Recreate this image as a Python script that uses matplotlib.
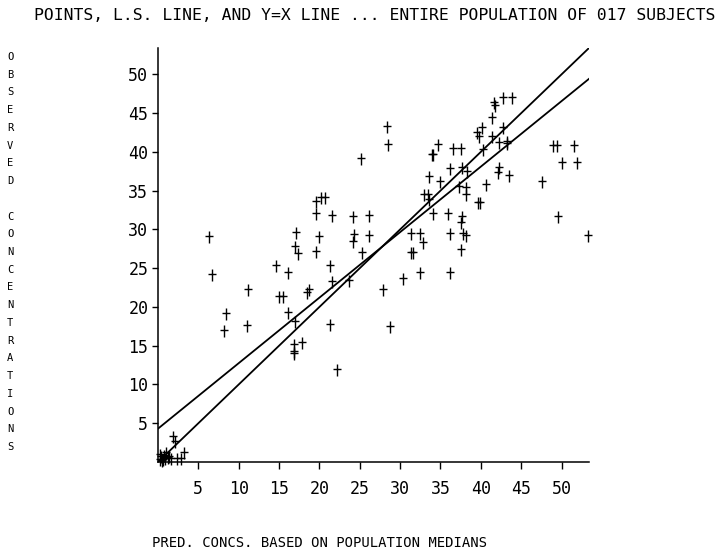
import numpy as np
import matplotlib
matplotlib.use("Agg")
import matplotlib.pyplot as plt
from matplotlib.path import Path

# values
pred = [0.2, 0.4, 0.6, 0.8, 1.0, 1.2, 0.3, 0.9, 0.5, 1.4,
        1.6, 2.4, 2.9, 3.2, 1.9, 2.1,
        6.3, 6.7, 8.4, 8.2, 11.2, 11.0, 14.6, 15.0, 15.5, 16.1,
        16.1, 17.0, 16.9, 16.9, 16.9, 17.9, 17.1, 17.0, 17.4, 18.5,
        18.7, 19.6, 20.2, 20.7, 19.6, 19.9, 19.6, 21.6, 21.3, 21.6,
        21.3, 22.2, 23.7, 24.1, 24.1, 24.3, 25.1, 25.3, 26.2, 26.2,
        27.9, 28.4, 28.5, 28.8, 30.3, 31.4, 32.5, 32.8, 31.4, 31.6,
        32.5, 32.9, 33.4, 33.6, 33.6, 33.9, 34.1, 34.7, 34.9, 34.1,
        35.9, 36.2, 36.2, 36.2, 36.6, 37.5, 37.3, 37.7, 37.7, 37.5,
        37.5, 37.8, 38.2, 38.1, 38.2, 38.3, 39.6, 39.9, 39.5, 39.8,
        40.2, 40.3, 40.7, 41.4, 41.4, 41.6, 41.8, 42.2, 42.8, 42.2,
        42.1, 42.8, 43.9, 43.3, 43.3, 43.5, 47.6, 49.0, 49.4, 51.5,
        50.0, 51.9, 49.6, 53.3]
obs = [0.3, 0.6, 0.2, 0.8, 1.2, 0.5, 0.9, 0.4, 0.1, 0.7,
       0.4, 0.4, 0.4, 1.2, 3.2, 2.6,
       29.0, 24.1, 19.1, 16.9, 22.2, 17.5, 25.3, 21.3, 21.3, 24.4,
       19.2, 18.1, 15.1, 14.2, 13.9, 15.4, 29.5, 27.7, 26.8, 21.8,
       22.2, 33.5, 34.1, 34.1, 32.0, 29.0, 27.1, 31.7, 25.3, 23.2,
       17.7, 11.9, 23.4, 31.6, 28.4, 29.3, 39.1, 27.0, 31.7, 29.2,
       22.2, 43.2, 40.9, 17.4, 23.6, 29.4, 29.4, 28.3, 27.0, 27.0,
       24.4, 34.5, 34.5, 36.8, 33.8, 39.6, 39.6, 40.9, 36.1, 32.0,
       32.0, 37.8, 29.4, 24.4, 40.4, 40.4, 35.5, 37.9, 31.6, 30.8,
       27.4, 29.4, 29.2, 35.4, 34.5, 37.4, 33.4, 33.4, 42.5, 41.9,
       43.1, 40.3, 35.7, 44.4, 41.9, 46.3, 45.9, 41.2, 43.1, 37.9,
       37.3, 47.0, 47.0, 41.3, 41.0, 36.9, 36.1, 40.8, 40.8, 40.8,
       38.6, 38.6, 31.6, 29.2]

ls_intercept = 4.3
ls_slope = 0.845
ticks = [5, 10, 15, 20, 25, 30, 35, 40, 45, 50]
axis_max = 53.4

title = "POINTS, L.S. LINE, AND Y=X LINE ... ENTIRE POPULATION OF 017 SUBJECTS"
xlabel = "PRED. CONCS. BASED ON POPULATION MEDIANS"
ylabel = "OBSERVED CONCENTRATIONS"

plt.rcParams['font.family'] = ['DejaVu Sans Mono']

# plotter style cross: tall stem, short bar a bit above the middle
cross = Path([(-0.35, 0.12), (0.35, 0.12), (0, -0.5), (0, 0.5)],
             [Path.MOVETO, Path.LINETO, Path.MOVETO, Path.LINETO])

fig = plt.figure(figsize=(7.24, 5.57), dpi=100)
ax = fig.add_axes([158/724, 95/557, 431/724, 414/557])

xs = np.array([0, axis_max])
ax.plot(xs, ls_intercept + ls_slope * xs, color="black", lw=1.3)
ax.plot(xs, xs, color="black", lw=1.3)
ax.plot(pred, obs, linestyle="none", marker=cross, color="black",
        markersize=8, markeredgewidth=1.0, clip_on=False)

ax.set_xlim(0, axis_max)
ax.set_ylim(0, axis_max)
ax.set_xticks(ticks)
ax.set_yticks(ticks)
ax.tick_params(direction="out", length=4, width=1, labelsize=12, pad=3)
ax.tick_params(axis="x", length=5, pad=8)
for s in ["top", "right"]:
    ax.spines[s].set_visible(False)
for s in ["left", "bottom"]:
    ax.spines[s].set_linewidth(1.1)

fig.text(375/724, 1 - 16/557, title, ha="center", va="center", fontsize=11.8)
fig.text(320/724, 1 - 543/557, xlabel, ha="center", va="center", fontsize=10)

# vertical stacked y label
step = (447 - 57) / (len(ylabel) - 1)
for i, ch in enumerate(ylabel):
    fig.text(10/724, 1 - (57 + i*step)/557, ch, ha="center", va="center",
             fontsize=7.5)

plt.savefig("out.png", dpi=100)
